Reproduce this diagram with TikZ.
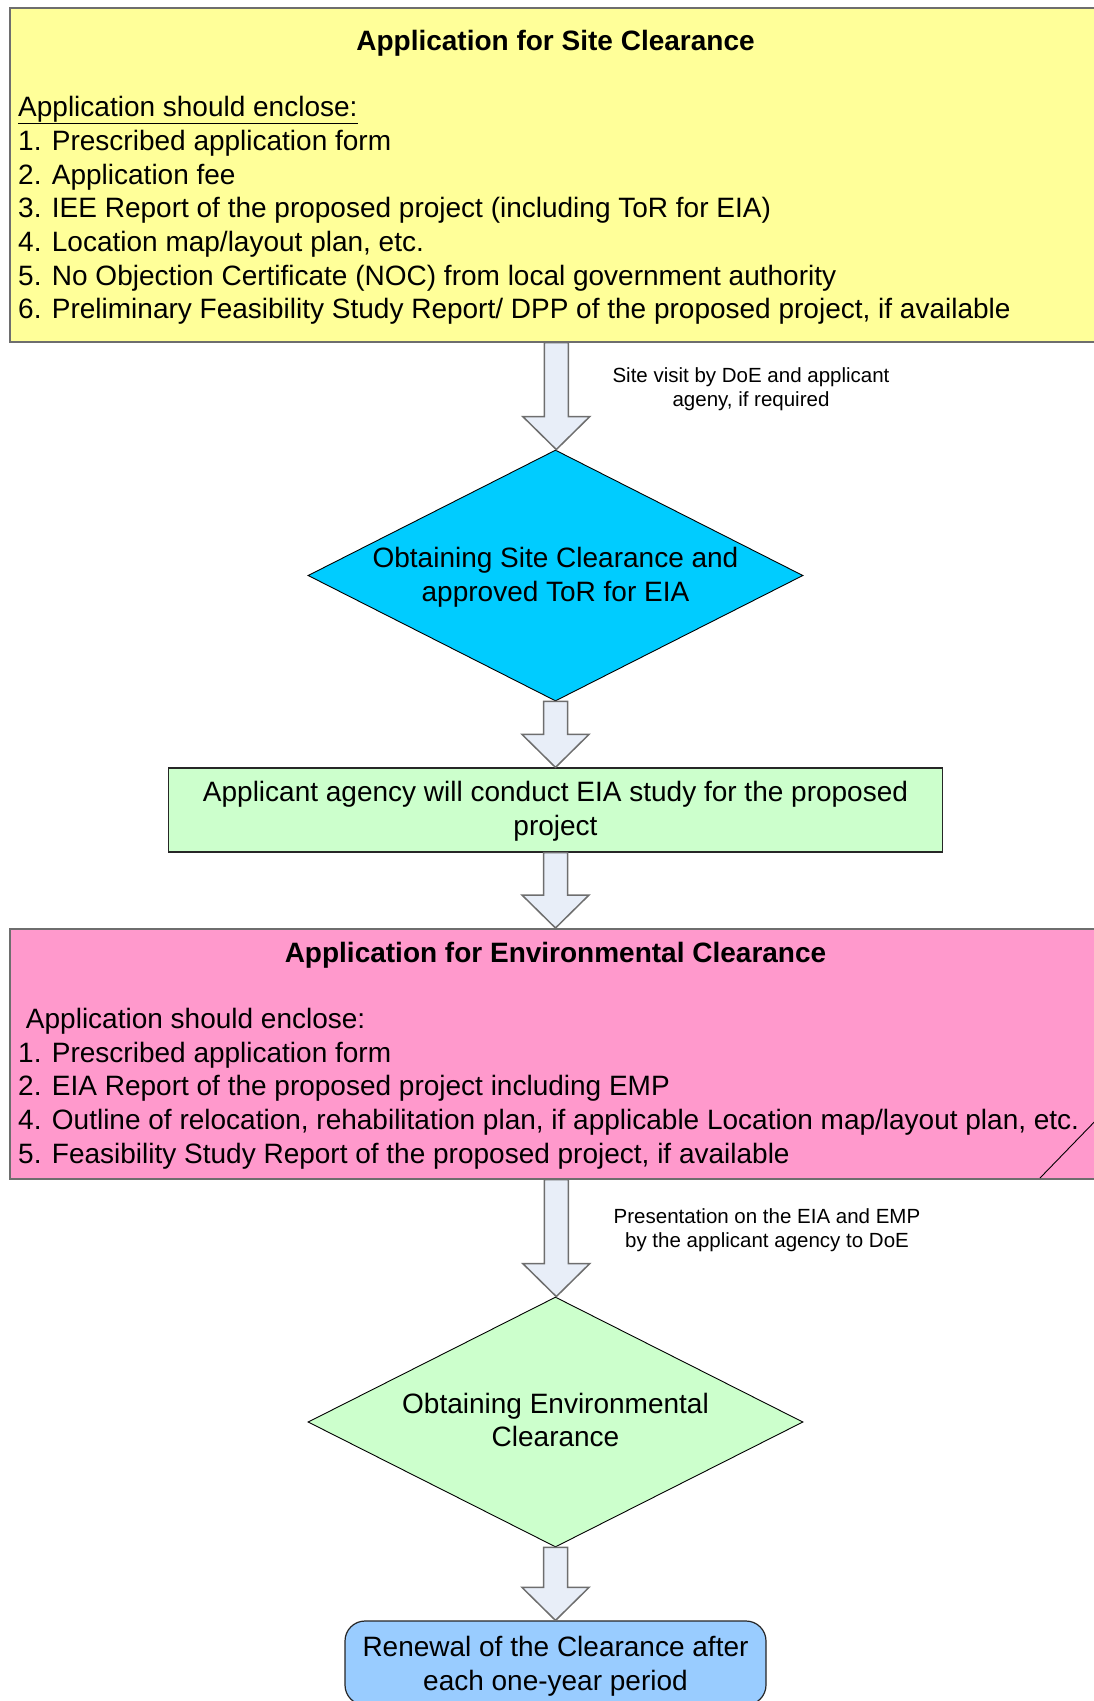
\documentclass[tikz,border=0pt]{standalone}
\usepackage{fontspec}
\setmainfont{Liberation Sans}
\usetikzlibrary{shapes.geometric,calc}

\definecolor{boxyellow}{HTML}{FFFF99}
\definecolor{boxcyan}{HTML}{00CCFF}
\definecolor{boxgreen}{HTML}{CCFFCC}
\definecolor{boxpink}{HTML}{FF99CC}
\definecolor{boxblue}{HTML}{99CCFF}
\definecolor{arrowfill}{HTML}{E8EEF8}
\definecolor{edgegray}{HTML}{6E6E6E}

\tikzset{
  panel/.style={draw=edgegray, line width=1.6pt, inner sep=0pt, anchor=north west},
  stepdiamond/.style={diamond, draw=black, line width=0.9pt, inner sep=0pt},
  plainbox/.style={rectangle, draw=black!85, line width=1.2pt, inner sep=0pt},
  flow/.style={draw=edgegray, fill=arrowfill, line width=1.5pt, line join=miter},
  bigtext/.style={font=\fontsize{28}{33.6}\selectfont, inner sep=0pt},
  listline/.style={bigtext, anchor=base west},
  titleline/.style={font=\bfseries\fontsize{28}{33.6}\selectfont, inner sep=0pt, anchor=base},
  centred/.style={bigtext, align=center},
  remark/.style={font=\fontsize{20.5}{24.6}\selectfont, inner sep=0pt, align=center},
}

% block arrow from one anchor down to another
\newcommand\flowarrow[2]{%
  \draw[flow] let \p1=(#1), \p2=(#2) in
    (\x1-12pt,\y1) -- (\x1+12pt,\y1) -- (\x1+12pt,\y2+33pt) --
    (\x1+33.5pt,\y2+33pt) -- (\x1,\y2) -- (\x1-33.5pt,\y2+33pt) --
    (\x1-12pt,\y2+33pt) -- cycle;}

\begin{document}
\begin{tikzpicture}[x=1pt,y=-1pt]
\useasboundingbox (0,0) rectangle (1094,1701);
\clip (0,0) rectangle (1094,1701);

% site clearance application
\node[panel, fill=boxyellow, minimum width=1093, minimum height=334] (site) at (9,7) {};
\node[titleline] (sitetitle) at (555.5,50) {Application for Site Clearance};
\node[listline] (s0) at (18,116) {\underline{Application should enclose:}};
\node[listline] (s1) at (18,150) {1. Prescribed application form};
\node[listline] (s2) at (18,184) {2. Application fee};
\node[listline] (s3) at (18,217) {3. IEE Report of the proposed project (including ToR for EIA)};
\node[listline] (s4) at (18,251) {4. Location map/layout plan, etc.};
\node[listline] (s5) at (18,285) {5. No Objection Certificate (NOC) from local government authority};
\node[listline] (s6) at (18,318) {6. Preliminary Feasibility Study Report/ DPP of the proposed project, if available};

% site clearance decision
\node[stepdiamond, fill=boxcyan, minimum width=495, minimum height=251] (d1) at (555.5,575.5) {};
\node[centred] (d1text) at ($(d1.center)+(0,2)$) {Obtaining Site Clearance and\\approved ToR for EIA};

% EIA study
\node[plainbox, fill=boxgreen, minimum width=774, minimum height=84] (eia) at (555.5,810) {};
\node[centred] (eiatext) at ($(eia.center)+(0,1)$) {Applicant agency will conduct EIA study for the proposed\\project};

% environmental clearance application
\node[panel, fill=boxpink, minimum width=1093, minimum height=250] (env) at (9,928) {};
\node[titleline] (envtitle) at (555.5,962) {Application for Environmental Clearance};
\node[listline] (e0) at (18,1028) {\ Application should enclose:};
\node[listline] (e1) at (18,1062) {1. Prescribed application form};
\node[listline] (e2) at (18,1095) {2. EIA Report of the proposed project including EMP};
\node[listline] (e3) at (18,1129) {4. Outline of relocation, rehabilitation plan, if applicable Location map/layout plan, etc.};
\node[listline] (e4) at (18,1163) {5. Feasibility Study Report of the proposed project, if available};
\coordinate (foldA) at (1040,1178);
\coordinate (foldB) at (1102,1114);
\draw[black, line width=0.9pt] (foldA) -- (foldB);

% environmental clearance decision
\node[stepdiamond, fill=boxgreen, minimum width=495, minimum height=250] (d2) at (555.5,1422) {};
\node[centred] (d2text) at ($(d2.center)+(0,-2)$) {Obtaining Environmental\\Clearance};

% renewal
\node[plainbox, fill=boxblue, rounded corners=20pt, minimum width=421, minimum height=84] (renew) at (555.5,1663) {};
\node[centred] (renewtext) at ($(renew.center)+(0,3)$) {Renewal of the Clearance after\\each one-year period};

% connectors
\flowarrow{site.south}{d1.north}
\flowarrow{d1.south}{eia.north}
\flowarrow{eia.south}{env.north}
\flowarrow{env.south}{d2.north}
\flowarrow{d2.south}{renew.north}

% side remarks
\node[remark] (r1) at (751,389) {Site visit by DoE and applicant\\ageny, if required};
\node[remark] (r2) at (767,1230) {Presentation on the EIA and EMP\\by the applicant agency to DoE};
\end{tikzpicture}
\end{document}
